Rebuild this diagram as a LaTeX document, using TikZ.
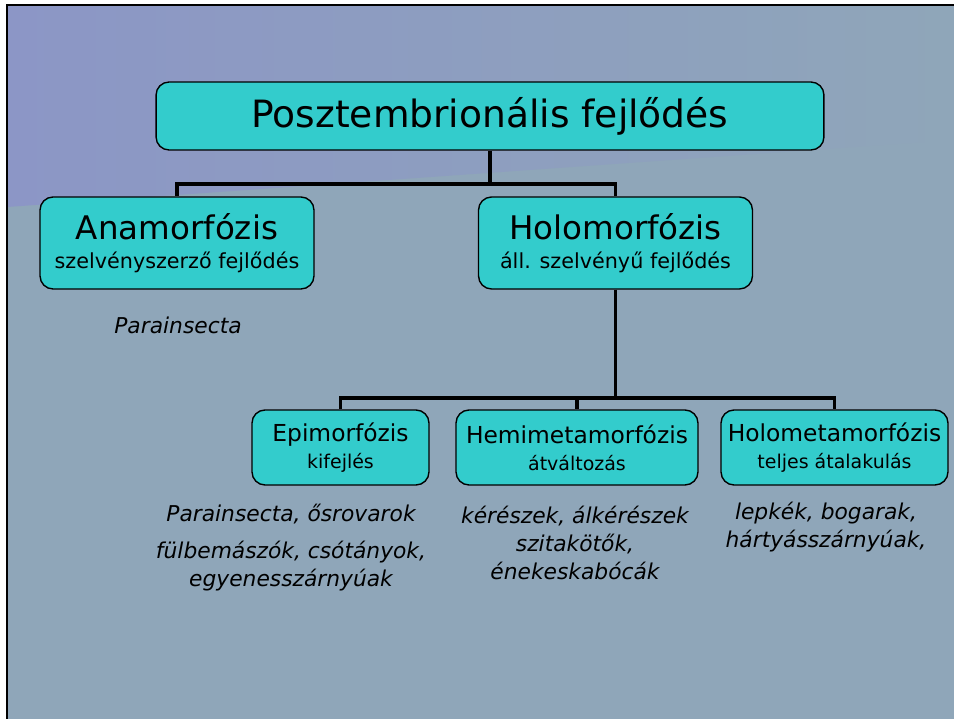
\documentclass[tikz,border=0pt]{standalone}
\usepackage{fontspec}
\setmainfont{DejaVu Sans}
\usetikzlibrary{positioning,calc}
\definecolor{slideblue}{HTML}{8FA6B9}
\definecolor{slidepurple}{HTML}{8C96C6}
\definecolor{boxteal}{HTML}{33CCCC}

\begin{document}
\begin{tikzpicture}[x=0.02cm,y=-0.02cm]
    \tikzset{stagebox/.style={draw=black,line width=0.8pt,fill=boxteal,rounded corners=0.26cm,align=center,inner sep=0pt},
      midbox/.style={stagebox,minimum width=5.48cm,minimum height=1.84cm,font=\fontsize{11.8}{16.6}\selectfont},
      lowbox/.style={stagebox,minimum height=1.5cm,font=\fontsize{10.8}{15.4}\selectfont},
      link/.style={draw=black,line width=1.8pt},
      species/.style={align=center,font=\itshape\fontsize{12.4}{15.8}\selectfont}}
    \useasboundingbox (0,0) rectangle (954,719);
    \fill[white] (0,0) rectangle (954,719);
    \fill[slideblue] (7,5) rectangle (954,719);
    \shade[left color=slidepurple,right color=slideblue] (7,5) -- (954,5) -- (954,140) -- (7,207) -- cycle;
    \draw[line width=1.6pt] (7,719) -- (7,5) -- (954,5);
    \node[stagebox,minimum width=13.36cm,minimum height=1.36cm,font=\fontsize{21.4}{25}\selectfont] (root) at (490,116) {Posztembrionális fejlődés};
    \node[midbox] (ana) at (177,243) {{\fontsize{18.5}{16.6}\selectfont Anamorfózis}\\szelvényszerző fejlődés};
    \node[midbox] (holo) at (615.5,243) {{\fontsize{18.5}{16.6}\selectfont Holomorfózis}\\áll. szelvényű fejlődés};
    \node[lowbox,minimum width=3.54cm] (epi) at (340.5,447.5) {{\fontsize{13.3}{15.4}\selectfont Epimorfózis}\\kifejlés};
    \node[lowbox,minimum width=4.84cm] (hemi) at (577,447.5) {{\fontsize{13.3}{15.4}\selectfont Hemimetamorfózis}\\átváltozás};
    \node[lowbox,minimum width=4.54cm] (holomet) at (834.5,447.5) {{\fontsize{13.3}{15.4}\selectfont Holometamorfózis}\\teljes átalakulás};
    \coordinate (split) at (490,184);
    \coordinate (subsplit) at (615.5,398);
    \draw[link] (root) -- (split) -| (ana);
    \draw[link] (split) -| (holo);
    \draw[link] (holo) -- (subsplit) -| (epi);
    \draw[link] (subsplit) -| (hemi);
    \draw[link] (subsplit) -| (holomet);
    \node[species] (anaex) at (178,325) {Parainsecta};
    \node[species] (epiex) at (291,514) {Parainsecta, ősrovarok};
    \node[species] (epiex2) at (291,566) {fülbemászók, csótányok,\\egyenesszárnyúak};
    \node[species] (hemiex) at (575,543) {kérészek, álkérészek\\szitakötők,\\énekeskabócák};
    \node[species] (holometex) at (826,527) {lepkék, bogarak,\\hártyásszárnyúak,};
\end{tikzpicture}
\end{document}
